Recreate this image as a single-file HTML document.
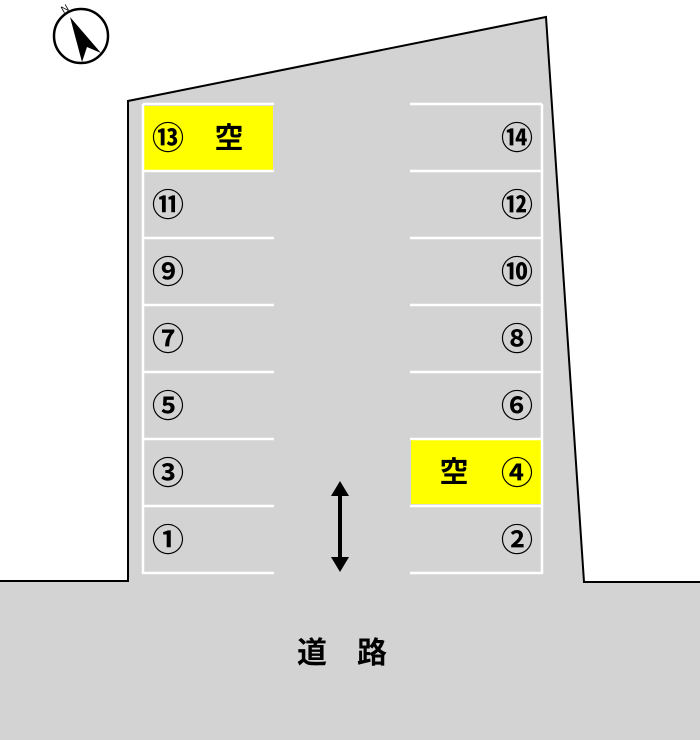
<!DOCTYPE html>
<html><head><meta charset="utf-8"><style>
html,body{margin:0;padding:0;background:#fff;}
svg{display:block;}
text{font-family:"Liberation Sans","Noto Sans CJK JP",sans-serif;}
</style></head><body>
<svg width="700" height="740" viewBox="0 0 700 740" xmlns="http://www.w3.org/2000/svg">
<rect x="0" y="581" width="700" height="159" fill="#d3d3d3"/>
<polygon points="128,101 546,17 584,582 128,582" fill="#d3d3d3"/>
<polyline points="0,581 128,581 128,101 546,17 584,582 700,582" fill="none" stroke="#000" stroke-width="2"/>
<rect x="144" y="106" width="129" height="64" fill="#ffff00"/>
<rect x="411" y="440" width="130" height="64" fill="#ffff00"/>
<g stroke="#fff" stroke-width="2.5">
<line x1="143" y1="104" x2="143" y2="574"/>
<line x1="542" y1="104" x2="542" y2="574"/>
<line x1="143" y1="104" x2="274" y2="104"/><line x1="143" y1="171" x2="274" y2="171"/>
<line x1="143" y1="238" x2="274" y2="238"/><line x1="143" y1="305" x2="274" y2="305"/>
<line x1="143" y1="372" x2="274" y2="372"/><line x1="143" y1="439" x2="274" y2="439"/>
<line x1="143" y1="506" x2="274" y2="506"/><line x1="143" y1="573" x2="274" y2="573"/>
<line x1="410" y1="104" x2="542" y2="104"/><line x1="410" y1="171" x2="542" y2="171"/>
<line x1="410" y1="238" x2="542" y2="238"/><line x1="410" y1="305" x2="542" y2="305"/>
<line x1="410" y1="372" x2="542" y2="372"/><line x1="410" y1="439" x2="542" y2="439"/>
<line x1="410" y1="506" x2="542" y2="506"/><line x1="410" y1="573" x2="542" y2="573"/>
</g>
<g font-size="32" font-weight="bold" text-anchor="middle" fill="#000">
<text x="168" y="149">⑬</text><text x="168" y="216">⑪</text><text x="168" y="283">⑨</text>
<text x="168" y="350">⑦</text><text x="168" y="417">⑤</text><text x="168" y="484">③</text>
<text x="168" y="551">①</text>
<text x="517" y="149">⑭</text><text x="517" y="216">⑫</text><text x="517" y="283">⑩</text>
<text x="517" y="350">⑧</text><text x="517" y="417">⑥</text><text x="517" y="484">④</text>
<text x="517" y="551">②</text>
</g>
<g font-size="29" font-weight="bold" text-anchor="middle" fill="#000">
<text x="229" y="148">空</text><text x="454" y="482">空</text>
<text x="342" y="663" font-size="30">道　路</text>
</g>
<line x1="340" y1="490" x2="340" y2="563" stroke="#000" stroke-width="4"/>
<polygon points="340,481 331,496 349,496" fill="#000"/>
<polygon points="340,572 331,557 349,557" fill="#000"/>
<circle cx="81" cy="36" r="27" fill="#fff" stroke="#000" stroke-width="2.5"/>
<polygon points="70,17 82,62 87,47 101,53" fill="#000"/>
<text x="65" y="12" font-size="10" transform="rotate(-30 65 9)" text-anchor="middle">N</text>
</svg>
</body></html>
